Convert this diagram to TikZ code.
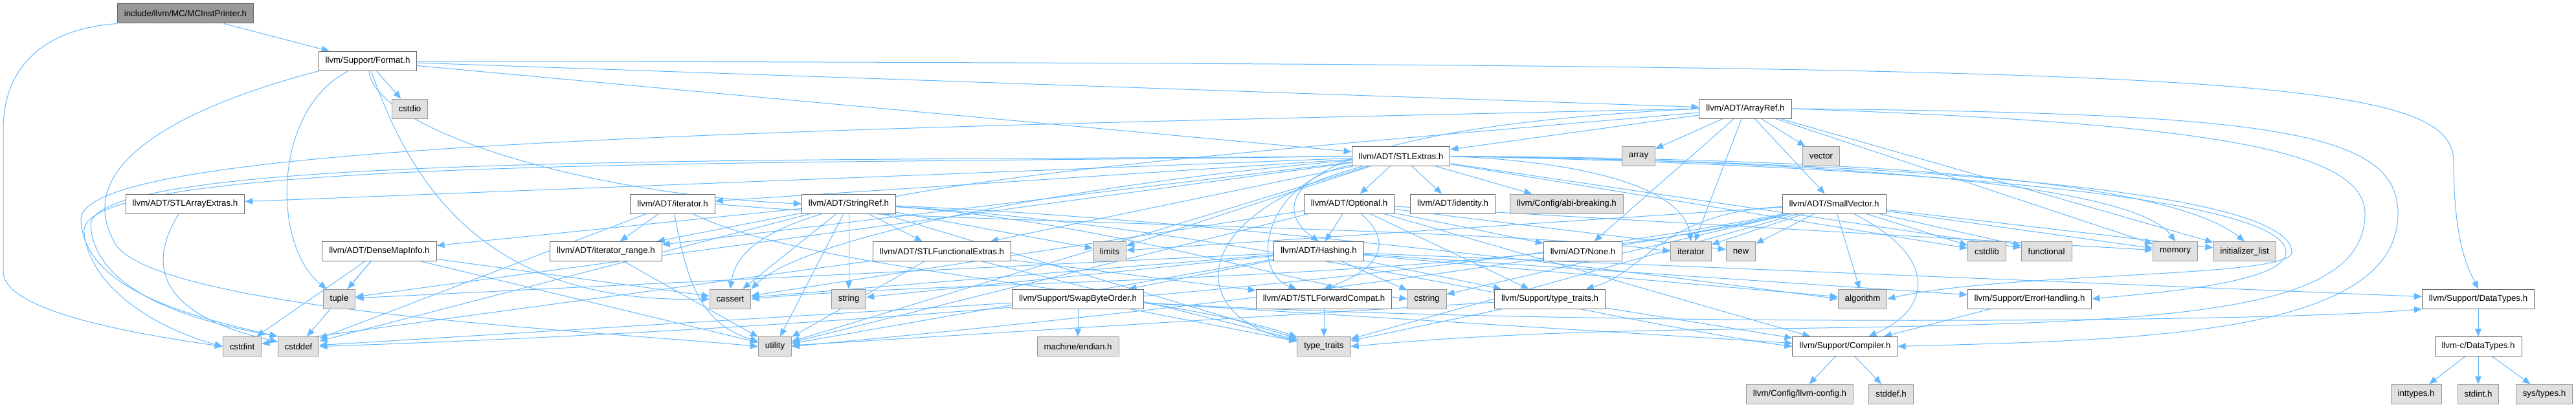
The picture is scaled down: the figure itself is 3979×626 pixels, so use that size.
\documentclass[tikz,border=0pt]{standalone}
\usepackage{fontspec}
\setmainfont{Liberation Sans}
\usetikzlibrary{arrows.meta}
\pgfdeclarelayer{edges}
\pgfsetlayers{edges,main}
\definecolor{edgeblue}{HTML}{63B8FF}
\definecolor{boxline}{HTML}{666666}
\definecolor{sysline}{HTML}{999999}
\definecolor{sysfill}{HTML}{E0E0E0}
\definecolor{rootfill}{HTML}{999999}

\begin{document}
\begin{tikzpicture}[x=1pt, y=-1pt,
  hdr/.style={rectangle, draw=boxline, fill=white, line width=1pt,
    minimum height=30pt, inner xsep=10.5pt, inner ysep=0pt,
    font=\fontsize{13.3}{16}\selectfont},
  sys/.style={hdr, draw=sysline, fill=sysfill},
  root/.style={hdr, fill=rootfill},
  dep/.style={-{Triangle[length=12pt, width=10pt]}, draw=edgeblue, line width=1pt}
]
  \useasboundingbox (0,0) rectangle (3979,626);
  \node[root] (mcp) at (286.5,21) {include/llvm/MC/MCInstPrinter.h};
  \node[hdr] (fmt) at (568,94.5) {llvm/Support/Format.h};
  \node[sys] (cstdio) at (633,168) {cstdio};
  \node[hdr] (aref) at (2696,168) {llvm/ADT/ArrayRef.h};
  \node[hdr] (stlx) at (2164,241.5) {llvm/ADT/STLExtras.h};
  \node[sys] (array) at (2531,241.5) {array};
  \node[sys] (vector) at (2813,241.5) {vector};
  \node[hdr] (sarr) at (286,315) {llvm/ADT/STLArrayExtras.h};
  \node[hdr] (itr) at (1039,315) {llvm/ADT/iterator.h};
  \node[hdr] (sref) at (1311,315) {llvm/ADT/StringRef.h};
  \node[hdr] (opt) at (2084,315) {llvm/ADT/Optional.h};
  \node[hdr] (ident) at (2244,315) {llvm/ADT/identity.h};
  \node[sys] (abi) at (2420,315) {llvm/Config/abi-breaking.h};
  \node[hdr] (svec) at (2833,315) {llvm/ADT/SmallVector.h};
  \node[hdr] (dmi) at (586,388.5) {llvm/ADT/DenseMapInfo.h};
  \node[hdr] (irange) at (936,388.5) {llvm/ADT/iterator\_range.h};
  \node[hdr] (sfun) at (1455,388.5) {llvm/ADT/STLFunctionalExtras.h};
  \node[sys] (limits) at (1714,388.5) {limits};
  \node[hdr] (hash) at (2037,388.5) {llvm/ADT/Hashing.h};
  \node[hdr] (none) at (2445,388.5) {llvm/ADT/None.h};
  \node[sys] (iterator) at (2612,388.5) {iterator};
  \node[sys] (new) at (2689,388.5) {new};
  \node[sys] (cstdlib) at (3069,388.5) {cstdlib};
  \node[sys] (functional) at (3161,388.5) {functional};
  \node[sys] (memory) at (3360,388.5) {memory};
  \node[sys] (initl) at (3467,388.5) {initializer\_list};
  \node[sys] (tuple) at (524,462) {tuple};
  \node[sys] (cassert) at (1128,462) {cassert};
  \node[sys] (string) at (1311,462) {string};
  \node[hdr] (sbo) at (1665,462) {llvm/Support/SwapByteOrder.h};
  \node[hdr] (sfwd) at (2045,462) {llvm/ADT/STLForwardCompat.h};
  \node[sys] (cstring) at (2204,462) {cstring};
  \node[hdr] (stt) at (2394,462) {llvm/Support/type\_traits.h};
  \node[sys] (algorithm) at (2877,462) {algorithm};
  \node[hdr] (errh) at (3135,462) {llvm/Support/ErrorHandling.h};
  \node[hdr] (dtypes) at (3828,462) {llvm/Support/DataTypes.h};
  \node[sys] (cstdint) at (374,535.5) {cstdint};
  \node[sys] (cstddef) at (461,535.5) {cstddef};
  \node[sys] (utility) at (1197,535.5) {utility};
  \node[sys] (endian) at (1665,535.5) {machine/endian.h};
  \node[sys] (typetr) at (2045,535.5) {type\_traits};
  \node[hdr] (comp) at (2850,535.5) {llvm/Support/Compiler.h};
  \node[hdr] (cdtypes) at (3828,535.5) {llvm-c/DataTypes.h};
  \node[sys] (cfg) at (2780,609) {llvm/Config/llvm-config.h};
  \node[sys] (stddefh) at (2921,609) {stddef.h};
  \node[sys] (inttypes) at (3732,609) {inttypes.h};
  \node[sys] (stdinth) at (3828,609) {stdint.h};
  \node[sys] (systypes) at (3930,609) {sys/types.h};
  \begin{pgfonlayer}{edges}
  \draw[dep] (mcp) -- (fmt);
  \draw[dep] (mcp.south west) .. controls (60,45) and (5,110) .. (5,200) -- (5,420) .. controls (5,480) and (200,515) .. (cstdint.west);
  \draw[dep] (fmt) -- (cstdio);
  \draw[dep] (fmt) -- (aref);
  \draw[dep] (fmt) -- (stlx);
  \draw[dep] (fmt) .. controls (580,200) and (900,300) .. (sref.west);
  \draw[dep] (fmt.east) .. controls (3400,100) and (3790,110) .. (3790,250) .. controls (3790,380) and (3815,420) .. (dtypes.north);
  \draw[dep] (fmt) .. controls (420,170) and (420,380) .. (tuple);
  \draw[dep] (fmt) .. controls (640,300) and (760,470) .. (cassert.west);
  \draw[dep] (fmt.south west) .. controls (300,160) and (100,250) .. (180,380) .. controls (260,480) and (900,510) .. (utility.west);
  \draw[dep] (aref) -- (stlx);
  \draw[dep] (aref) -- (array);
  \draw[dep] (aref) -- (vector);
  \draw[dep] (aref) -- (svec);
  \draw[dep] (aref) -- (iterator);
  \draw[dep] (aref) -- (none);
  \draw[dep] (aref) -- (memory);
  \draw[dep] (aref) -- (initl);
  \draw[dep] (aref.west) .. controls (1960,200) and (1960,320) .. (hash.north);
  \draw[dep] (aref) .. controls (1500,270) and (1150,300) .. (cassert.north);
  \draw[dep] (aref.west) .. controls (1200,200) and (120,220) .. (125,340) .. controls (130,450) and (300,490) .. (cstddef.north west);
  \draw[dep] (aref.east) .. controls (3500,175) and (3704,200) .. (3704,330) .. controls (3704,520) and (3300,525) .. (comp.east);
  \draw[dep] (aref.east) .. controls (3400,190) and (3653,230) .. (3653,330) .. controls (3653,500) and (3300,500) .. (2600,510) .. controls (2300,515) and (2150,530) .. (typetr.east);
  \draw[dep] (stlx) -- (opt);
  \draw[dep] (stlx) -- (ident);
  \draw[dep] (stlx) -- (abi);
  \draw[dep] (stlx) -- (sarr);
  \draw[dep] (stlx) -- (itr);
  \draw[dep] (stlx) -- (irange);
  \draw[dep] (stlx) -- (sfun);
  \draw[dep] (stlx) -- (limits);
  \draw[dep] (stlx) -- (tuple);
  \draw[dep] (stlx) -- (utility);
  \draw[dep] (stlx) -- (cstdlib);
  \draw[dep] (stlx) -- (functional);
  \draw[dep] (stlx) .. controls (1950,280) and (1930,420) .. (sfwd);
  \draw[dep] (stlx) .. controls (1830,330) and (1830,490) .. (typetr);
  \draw[dep] (stlx) .. controls (1700,280) and (1250,360) .. (cassert.north east);
  \draw[dep] (stlx.east) .. controls (2450,250) and (2600,290) .. (iterator.north);
  \draw[dep] (stlx.east) .. controls (2900,250) and (3300,290) .. (memory.north);
  \draw[dep] (stlx.east) .. controls (2900,245) and (3350,280) .. (initl.north);
  \draw[dep] (stlx.east) .. controls (2900,255) and (3531,300) .. (3531,390) .. controls (3531,440) and (3300,455) .. (errh.east);
  \draw[dep] (stlx.east) .. controls (2900,250) and (3540,290) .. (3540,390) .. controls (3540,430) and (3100,420) .. (algorithm.east);
  \draw[dep] (stlx.west) .. controls (1200,255) and (110,240) .. (130,360) .. controls (140,450) and (250,510) .. (cstdint.west);
  \draw[dep] (stlx.west) .. controls (1200,250) and (130,235) .. (140,350) .. controls (150,460) and (320,500) .. (cstddef.north west);
  \draw[dep] (svec) -- (iterator);
  \draw[dep] (svec) -- (new);
  \draw[dep] (svec) -- (cstdlib);
  \draw[dep] (svec) -- (functional);
  \draw[dep] (svec) -- (memory);
  \draw[dep] (svec) -- (initl);
  \draw[dep] (svec) -- (algorithm);
  \draw[dep] (svec) -- (limits);
  \draw[dep] (svec) -- (cstring);
  \draw[dep] (svec) -- (typetr);
  \draw[dep] (svec) .. controls (2560,330) and (2545,420) .. (stt);
  \draw[dep] (svec) .. controls (3000,400) and (2980,480) .. (comp);
  \draw[dep] (svec) .. controls (2300,440) and (1500,430) .. (cassert.east);
  \draw[dep] (svec) .. controls (2300,420) and (1400,505) .. (cstddef.east);
  \draw[dep] (svec) .. controls (2300,430) and (1600,500) .. (utility.east);
  \draw[dep] (opt) -- (hash);
  \draw[dep] (opt) -- (none);
  \draw[dep] (opt) -- (comp);
  \draw[dep] (opt) -- (stt);
  \draw[dep] (opt) -- (cassert);
  \draw[dep] (opt) -- (memory);
  \draw[dep] (opt) -- (new);
  \draw[dep] (opt) -- (utility);
  \draw[dep] (opt) .. controls (2160,380) and (2120,420) .. (sfwd.north);
  \draw[dep] (hash) -- (dtypes);
  \draw[dep] (hash) -- (errh);
  \draw[dep] (hash) -- (sbo);
  \draw[dep] (hash) -- (stt);
  \draw[dep] (hash) -- (algorithm);
  \draw[dep] (hash) -- (cassert);
  \draw[dep] (hash) -- (cstring);
  \draw[dep] (hash) -- (string);
  \draw[dep] (hash) -- (tuple);
  \draw[dep] (hash) -- (utility);
  \draw[dep] (sbo) -- (endian);
  \draw[dep] (sbo) -- (comp);
  \draw[dep] (sbo) -- (typetr);
  \draw[dep] (sbo) -- (cstddef);
  \draw[dep] (sbo) .. controls (2400,505) and (3500,500) .. (dtypes.south west);
  \draw[dep] (sref) -- (dmi);
  \draw[dep] (sref) -- (sfun);
  \draw[dep] (sref) -- (irange);
  \draw[dep] (sref) -- (cassert);
  \draw[dep] (sref) -- (cstddef);
  \draw[dep] (sref) -- (limits);
  \draw[dep] (sref) -- (string);
  \draw[dep] (sref) -- (typetr);
  \draw[dep] (sref) -- (utility);
  \draw[dep] (sref) .. controls (1700,340) and (2000,440) .. (cstring.west);
  \draw[dep] (sref) .. controls (1900,350) and (2500,500) .. (comp.west);
  \draw[dep] (sref) .. controls (1900,340) and (2600,430) .. (algorithm.west);
  \draw[dep] (dmi) -- (tuple);
  \draw[dep] (dmi) -- (cstdint);
  \draw[dep] (dmi) -- (cstddef);
  \draw[dep] (dmi) -- (cassert);
  \draw[dep] (dmi) -- (utility);
  \draw[dep] (sfun) -- (sfwd);
  \draw[dep] (sfun) -- (cstdint);
  \draw[dep] (sfun) -- (typetr);
  \draw[dep] (sfun) -- (utility);
  \draw[dep] (itr) -- (irange);
  \draw[dep] (itr) -- (cstddef);
  \draw[dep] (itr) .. controls (1250,420) and (1800,450) .. (typetr);
  \draw[dep] (itr) .. controls (1060,430) and (1080,500) .. (utility);
  \draw[dep] (itr.east) .. controls (1400,345) and (2300,350) .. (iterator.west);
  \draw[dep] (irange) -- (utility);
  \draw[dep] (sarr) .. controls (220,420) and (260,490) .. (cstddef);
  \draw[dep] (sfwd) -- (typetr);
  \draw[dep] (stt) -- (comp);
  \draw[dep] (stt) -- (typetr);
  \draw[dep] (stt) -- (utility);
  \draw[dep] (errh) -- (comp);
  \draw[dep] (comp) -- (cfg);
  \draw[dep] (comp) -- (stddefh);
  \draw[dep] (dtypes) -- (cdtypes);
  \draw[dep] (cdtypes) -- (inttypes);
  \draw[dep] (cdtypes) -- (stdinth);
  \draw[dep] (cdtypes) -- (systypes);
  \end{pgfonlayer}
\end{tikzpicture}
\end{document}
